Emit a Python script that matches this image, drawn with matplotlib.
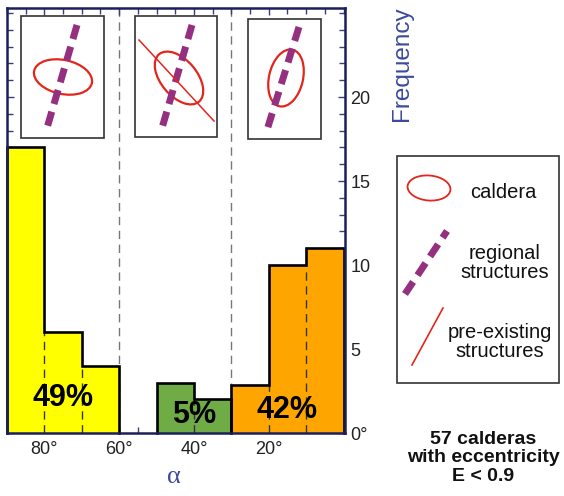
import matplotlib
matplotlib.use("Agg")
import matplotlib.pyplot as plt
from matplotlib.patches import Rectangle, Ellipse
from matplotlib.ticker import MultipleLocator

plt.rcParams["font.family"] = ["Liberation Sans", "DejaVu Sans"]

# ---- data -------------------------------------------------------------
bin_edges = [90, 80, 70, 60, 50, 40, 30, 20, 10, 0]      # alpha (deg)
counts = [17, 6, 4, 0, 3, 2, 2.85, 10, 11]               # frequency per bin
bin_group = ["low", "low", "low", None, "mid", "mid", "high", "high", "high"]
groups = ["low", "mid", "high"]
group_pct = {"low": "49%", "mid": "5%", "high": "42%"}
sector_bounds = [60, 30]
x_ticks = [80, 60, 40, 20]
y_ticks = [0, 5, 10, 15, 20]
y_tick_labels = ["0°", "5", "10", "15", "20"]

# ---- style ------------------------------------------------------------
group_colors = {"low": "#ffff00", "mid": "#6fac46", "high": "#ffa500"}
pct_pos = {"low": (75, 2.1), "mid": (40, 1.05), "high": (15, 1.35)}
navy = "#1c1f5c"
purple = "#94307f"
red = "#e3261c"
label_blue = "#3d4a9a"

W, H = 564, 496
fig = plt.figure(figsize=(W / 100, H / 100), dpi=100)
ax = fig.add_axes([7 / W, 1 - 433 / H, 338 / W, 425 / H])

# bars
for i, h in enumerate(counts):
    g = bin_group[i]
    if g is None:
        continue
    ax.bar(bin_edges[i], h, width=bin_edges[i + 1] - bin_edges[i],
           align="edge", color=group_colors[g], edgecolor="none", zorder=2)

# sector boundaries
for b in sector_bounds:
    ax.axvline(b, color="#777777", lw=1, ls=(0, (6, 4)), zorder=1)

# outline of each group + inner dashed bin edges
for g in groups:
    idx = [i for i, gg in enumerate(bin_group) if gg == g]
    xs, ys = [bin_edges[idx[0]]], [0]
    for i in idx:
        xs += [bin_edges[i], bin_edges[i + 1]]
        ys += [counts[i], counts[i]]
    xs.append(bin_edges[idx[-1] + 1])
    ys.append(0)
    ax.plot(xs, ys, color="black", lw=1.9, solid_joinstyle="miter",
            zorder=4, clip_on=False)
    for a, b in zip(idx[:-1], idx[1:]):
        ax.plot([bin_edges[b]] * 2, [0, min(counts[a], counts[b])],
                color="#333333", lw=1, ls=(0, (6, 4)), zorder=3)
    x, y = pct_pos[g]
    ax.text(x, y, group_pct[g], ha="center", va="center", fontsize=22,
            fontweight="bold", color="black", zorder=5)

ax.set_xlim(90, -0.4)
ax.set_ylim(0, 25.3)
ax.set_xticks(x_ticks, labels=[f"{v}°" for v in x_ticks])
ax.set_yticks(y_ticks, labels=y_tick_labels)
ax.xaxis.set_minor_locator(MultipleLocator(5))
ax.yaxis.set_minor_locator(MultipleLocator(1))
ax.tick_params(axis="both", which="both", direction="in", color="#3a3f7a",
               top=True, bottom=True, left=True, right=True,
               labelleft=False, labelright=True, labelsize=13,
               labelcolor="#222222")
ax.tick_params(axis="both", which="major", length=5, width=1)
ax.tick_params(axis="both", which="minor", length=4, width=1)
ax.tick_params(axis="x", pad=6)
ax.tick_params(axis="y", pad=4)
for s in ax.spines.values():
    s.set_color(navy)
    s.set_linewidth(1.8)
    s.set_zorder(6)

# ---- overlay in pixel coordinates for sketches and labels -------------
ov = fig.add_axes([0, 0, 1, 1], zorder=10)
ov.set_xlim(0, W)
ov.set_ylim(H, 0)
ov.axis("off")
ov.patch.set_alpha(0)

purple_dash = dict(color=purple, lw=5, ls=(0, (2.1, 1.15)),
                   dash_capstyle="butt", solid_capstyle="butt")

# sketch boxes above the histogram
for (x, y, w, h) in [(21, 16, 83, 122), (135, 16, 82, 121), (248, 19, 73, 120)]:
    ov.add_patch(Rectangle((x, y), w, h, facecolor="white",
                           edgecolor="#333333", lw=1.2))

ov.plot([77, 47], [25, 128], **purple_dash)
ov.add_patch(Ellipse((63, 77), 59, 34, angle=12, fill=False, ec=red, lw=1.6))

ov.plot([192, 162], [25, 128], **purple_dash)
ov.plot([139, 214], [40, 121], color=red, lw=1.1)
ov.add_patch(Ellipse((179, 78), 62, 36, angle=50, fill=False, ec=red, lw=1.6))

ov.plot([299, 267], [27, 130], **purple_dash)
ov.add_patch(Ellipse((286, 78), 58, 34, angle=-77, fill=False, ec=red, lw=1.6))

# legend box
ov.add_patch(Rectangle((397, 156), 162, 227, facecolor="white",
                       edgecolor="#333333", lw=1.2))
ov.add_patch(Ellipse((429, 188), 43, 25, angle=5, fill=False, ec=red, lw=1.3))
ov.text(470, 192, "caldera", ha="left", va="center", fontsize=14.5,
        color="#111111")
ov.plot([405, 447], [294, 231], **purple_dash)
ov.text(505, 263, "regional\nstructures", ha="center", va="center",
        fontsize=14.5, linespacing=1.0, color="#111111")
ov.plot([412, 443], [365, 308], color=red, lw=1.2)
ov.text(500, 342, "pre-existing\nstructures", ha="center", va="center",
        fontsize=14.5, linespacing=1.0, color="#111111")

# axis titles and note
ov.text(402, 64, "Frequency", rotation=90, ha="center", va="center",
        fontsize=17.5, color=label_blue)
ov.text(174, 477, "α", ha="center", va="center", fontsize=19,
        color=label_blue, family=["Liberation Serif", "DejaVu Serif"])
ov.text(483, 458, "57 calderas\nwith eccentricity\nE < 0.9", ha="center",
        va="center", fontsize=14, fontweight="bold", linespacing=1.13,
        color="#111111")

fig.savefig("out.png", dpi=100, facecolor="white")
